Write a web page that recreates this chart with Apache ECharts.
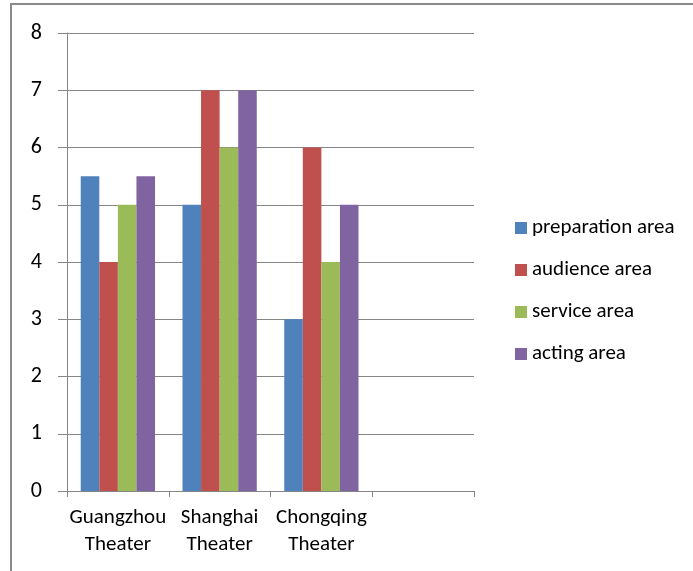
<!DOCTYPE html>
<html>
<head>
<meta charset="utf-8">
<script src="https://cdn.jsdelivr.net/npm/echarts@6/dist/echarts.min.js"></script>
<style>
html,body{margin:0;padding:0;background:#fff;}
#chart{width:693px;height:571px;}
</style>
</head>
<body>
<div id="chart"></div>
<script>
var categories = ['Guangzhou\nTheater', 'Shanghai\nTheater', 'Chongqing\nTheater', ''];
var seriesNames = ['preparation area', 'audience area', 'service area', 'acting area'];
var preparation = [5.5, 5, 3, null];
var audience = [4, 7, 6, null];
var service = [5, 6, 4, null];
var acting = [5.5, 7, 5, null];
var yTicks = [0, 1, 2, 3, 4, 5, 6, 7, 8];
var colors = ['#4F81BD', '#C0504D', '#9BBB59', '#8064A2'];

var font = 'Carlito, "Open Sans", "Noto Sans", sans-serif';
var chart = echarts.init(document.getElementById('chart'));
var dataSets = [preparation, audience, service, acting];
chart.setOption({
  animation: false,
  color: colors,
  textStyle: {fontFamily: font},
  graphic: [{
    type: 'rect', shape: {x: 11, y: 4, width: 900, height: 900},
    style: {fill: 'none', stroke: '#8a8a8a', lineWidth: 2}, silent: true
  }],
  grid: {left: 67, top: 33, right: 219, bottom: 80},
  legend: {
    orient: 'vertical', left: 510, top: 211,
    itemWidth: 12, itemHeight: 12, itemGap: 18,
    icon: 'rect',
    textStyle: {fontSize: 21, color: '#000', fontFamily: font, lineHeight: 24},
    data: seriesNames
  },
  xAxis: {
    type: 'category', data: categories,
    axisLine: {lineStyle: {color: '#868686', width: 1}},
    axisTick: {show: true, length: 6, alignWithLabel: false, lineStyle: {color: '#868686'}},
    axisLabel: {fontSize: 21, color: '#000', lineHeight: 27, margin: 13, interval: 0, fontFamily: font},
    splitLine: {show: false}
  },
  yAxis: {
    type: 'value', min: yTicks[0], max: yTicks[yTicks.length - 1], interval: 1,
    axisLine: {show: true, lineStyle: {color: '#868686', width: 1}},
    axisTick: {show: true, length: 9, lineStyle: {color: '#868686'}},
    axisLabel: {fontSize: 22, color: '#000', margin: 25, fontFamily: font},
    splitLine: {lineStyle: {color: '#868686', width: 1}}
  },
  series: seriesNames.map(function (n, i) {
    return {
      name: n, type: 'bar', data: dataSets[i],
      barGap: '0%', barCategoryGap: '27%',
      itemStyle: {color: colors[i]}
    };
  })
});
</script>
</body>
</html>
